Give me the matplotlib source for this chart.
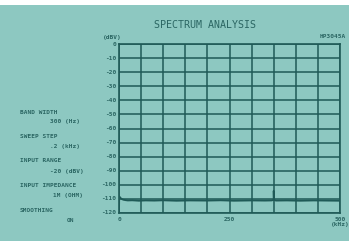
import matplotlib
matplotlib.use("Agg")
import matplotlib.pyplot as plt

# Trace (kHz, dBV)
freq_khz = [0, 0.5, 2, 4, 7, 10, 15, 20, 30, 45, 60, 80, 100, 130, 160, 200, 230,
            260, 300, 330, 345, 349.5, 350, 350, 350.5, 355, 380, 410, 440, 470, 500]
level_dbv = [-120, -108.3, -108.8, -109.5, -110.2, -110.6, -110.9, -111.1, -111.0,
             -111.3, -111.1, -111.2, -111.0, -111.3, -111.1, -111.2, -111.0,
             -111.3, -111.1, -111.2, -111.1, -110.8, -110.6, -104.3, -110.6,
             -111.2, -111.1, -111.3, -111.1, -111.2, -111.3]

y_ticks = list(range(0, -130, -10))
x_ticks = [0, 250, 500]
x_tick_labels = ["0", "250", "500\n(kHz)"]

setting_names = ["BAND WIDTH", "SWEEP STEP", "INPUT RANGE", "INPUT IMPEDANCE", "SMOOTHING"]
setting_values = ["300 (Hz)", ".2 (kHz)", "-20 (dBV)", "1M (OHM)", "ON"]
value_x = [50, 50, 50, 53, 67]  # left edge of each value, px

BG = "#8dc8c1"
INK = "#1f5a57"
TXT = "#2b6663"
MONO = "DejaVu Sans Mono"
FS = 4.4

fig = plt.figure(figsize=(3.49, 2.41), dpi=100)
fig.patch.set_facecolor(BG)
# white strip at the top of the photo
fig.patches.append(plt.Rectangle((0, 1 - 5 / 241), 1, 5 / 241, transform=fig.transFigure,
                                 facecolor="white", edgecolor="none"))

ax = fig.add_axes([119 / 349, 1 - 213 / 241, 221 / 349, 169 / 241])
ax.set_facecolor(BG)
ax.plot(freq_khz, level_dbv, color=INK, lw=1.3)
ax.set_xlim(0, 500)
ax.set_ylim(-120, 0)
ax.set_xticks(range(0, 501, 50))
ax.set_yticks(y_ticks)
ax.grid(True, color=INK, lw=1.1)
ax.tick_params(length=0, labelbottom=False, labelleft=False)
for s in ax.spines.values():
    s.set_color(INK)
    s.set_linewidth(1.2)

for v in y_ticks:
    ax.text(-7, v, str(v), ha="right", va="center", fontsize=FS, family=MONO,
            weight="bold", color=TXT)
for v, lab in zip(x_ticks, x_tick_labels):
    ax.text(v, -122.5, lab, ha="center", va="top", fontsize=FS, family=MONO,
            weight="bold", color=TXT, linespacing=1.2)

fig.text(205 / 349, 1 - 25 / 241, "SPECTRUM ANALYSIS", ha="center", va="center",
         fontsize=7.2, family=MONO, color=TXT)
fig.text(103 / 349, 1 - 37 / 241, "(dBV)", ha="left", va="center", fontsize=FS,
         family=MONO, weight="bold", color=TXT)
fig.text(346 / 349, 1 - 37 / 241, "HP3045A", ha="right", va="center", fontsize=FS,
         family=MONO, weight="bold", color=TXT)

y = 112
for name, val, vx in zip(setting_names, setting_values, value_x):
    fig.text(20 / 349, 1 - y / 241, name, ha="left", va="center", fontsize=FS,
             family=MONO, weight="bold", color=TXT)
    fig.text(vx / 349, 1 - (y + 10) / 241, val, ha="left", va="center", fontsize=FS,
             family=MONO, weight="bold", color=TXT)
    y += 24.5

fig.savefig("out.png", dpi=100, facecolor=BG)
